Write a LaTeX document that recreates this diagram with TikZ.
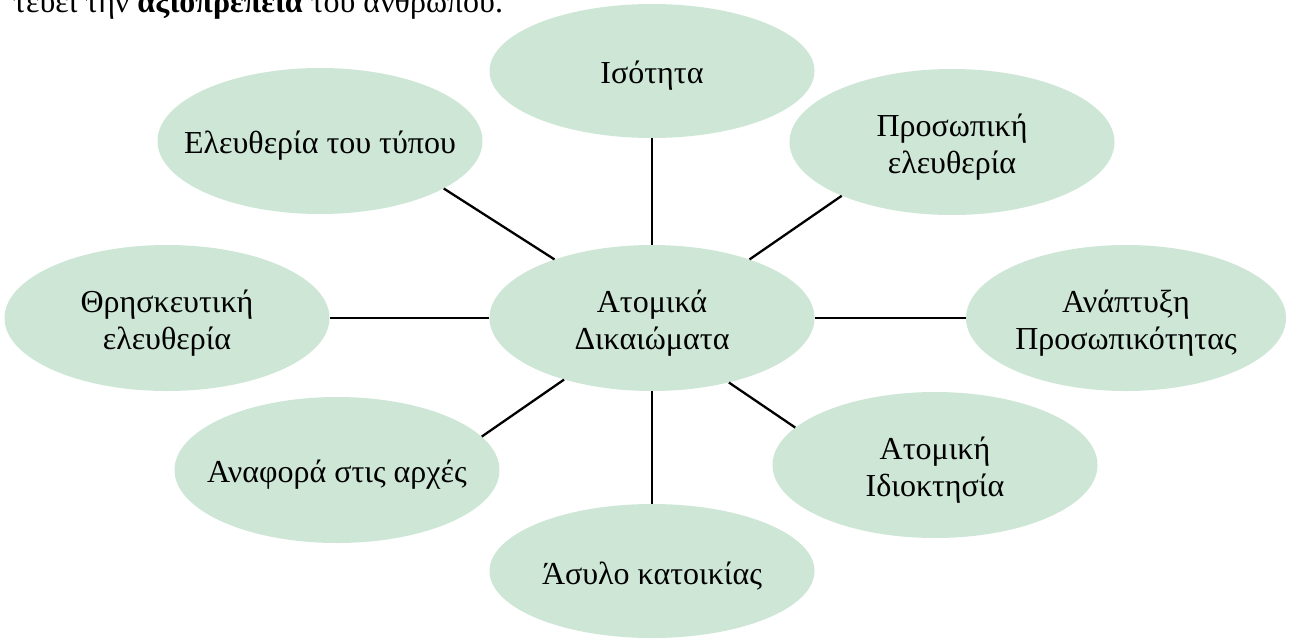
\documentclass[tikz,border=0pt]{standalone}
\usepackage{fontspec}
\setmainfont{Liberation Serif}
\usetikzlibrary{shapes.geometric}
\definecolor{bubble}{RGB}{205,230,214}
\newcommand{\zl}[1]{\makebox[0pt][c]{\raisebox{-5pt}[\height][\depth]{#1}}}
\tikzset{
  bub/.style={ellipse, fill=bubble, draw=none, minimum width=325pt, minimum height=146pt,
    inner sep=0pt, align=center, font=\fontsize{32}{37}\selectfont, text=black},
  link/.style={draw=black, line width=2.3pt}
}
\begin{document}
\begin{tikzpicture}[x=1pt,y=-1pt]
\useasboundingbox (0,0) rectangle (1289,638);
\clip (0,0) rectangle (1289,638);
\node[anchor=base west, font=\fontsize{32}{37}\selectfont, inner sep=0pt] (top) at (13,12)
  {τεύει την \textbf{αξιοπρέπεια} του ανθρώπου.};
\node[bub] (c) at (652,318) {\zl{Ατομικά}\\\zl{Δικαιώματα}};
\node[bub, minimum height=134pt] (isot) at (652,71) {\zl{Ισότητα}};
\node[bub] (pe) at (952,142) {\zl{Προσωπική}\\\zl{ελευθερία}};
\node[bub, minimum width=320pt] (ap) at (1126,318) {\zl{Ανάπτυξη}\\\zl{Προσωπικότητας}};
\node[bub] (ai) at (935,465) {\zl{Ατομική}\\\zl{Ιδιοκτησία}};
\node[bub, minimum height=134pt] (ak) at (652,571) {\zl{Άσυλο κατοικίας}};
\node[bub] (aa) at (337,470) {\zl{Αναφορά στις αρχές}};
\node[bub] (te) at (167,318) {\zl{Θρησκευτική}\\\zl{ελευθερία}};
\node[bub] (et) at (320,141) {\zl{Ελευθερία του τύπου}};
\draw[link] (c) -- (isot);
\draw[link] (c.31.5) -- (pe.206.8);
\draw[link] (c) -- (ap);
\draw[link] (c.-40) -- (ai.165.7);
\draw[link] (c) -- (ak);
\draw[link] (c.215.2) -- (aa.13);
\draw[link] (c) -- (te);
\draw[link] (c.149.6) -- (et.339.8);
\end{tikzpicture}
\end{document}
